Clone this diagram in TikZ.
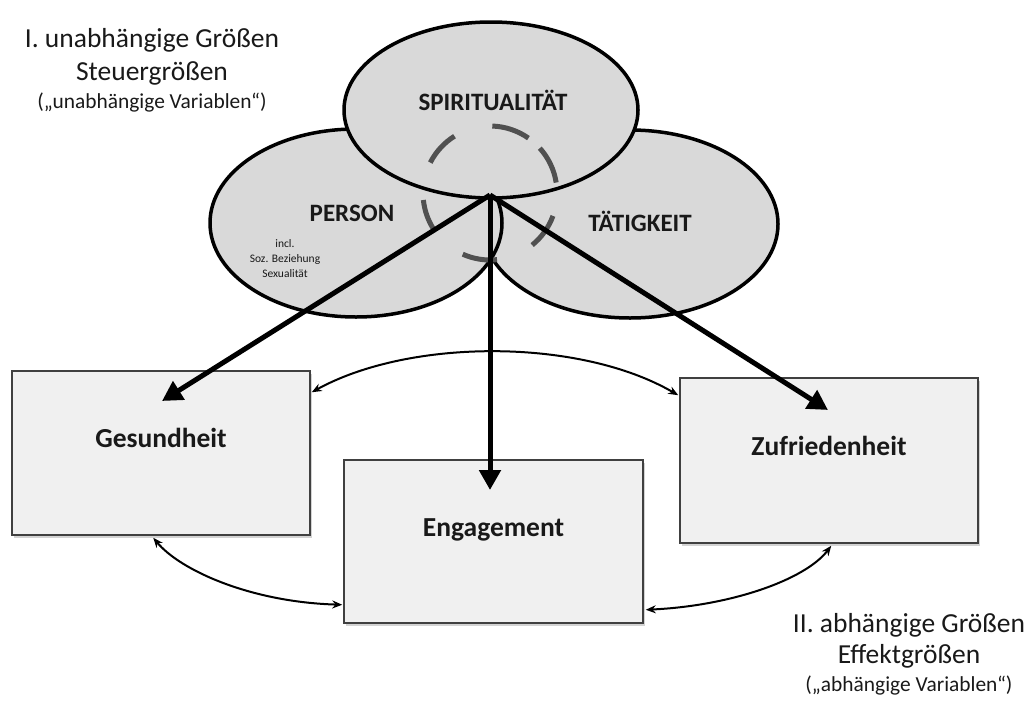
\documentclass[tikz,border=0pt]{standalone}
\usepackage{fontspec}
\setmainfont{Carlito}
\usetikzlibrary{shapes.geometric,arrows.meta,calc,shadows}
\definecolor{blobfill}{HTML}{D9D9D9}
\definecolor{boxfill}{HTML}{F0F0F0}
\definecolor{boxline}{HTML}{404040}
\definecolor{dashcol}{HTML}{505050}
\begin{document}
\begin{tikzpicture}[x=1pt,y=-1pt,
  blob/.style={ellipse, draw=black, line width=3.5pt, fill=blobfill, inner sep=0pt},
  blobtext/.style={font=\fontsize{25}{28}\selectfont\bfseries, text=black!90},
  box/.style={rectangle, draw=boxline, line width=1.5pt, fill=boxfill, inner sep=0pt,
    drop shadow={shadow xshift=1.5pt, shadow yshift=-2.5pt, opacity=0.35}},
  boxtext/.style={font=\fontsize{27.5}{30}\selectfont\bfseries, text=black!90},
  bigarrow/.style={line width=5pt, -{Triangle[length=20pt,width=21pt]}},
  linkarrow/.style={line width=2pt, {Stealth[length=10pt,width=8pt]}-{Stealth[length=10pt,width=8pt]}},
  dasharc/.style={draw=dashcol, line width=5pt},
  bigtitle/.style={font=\fontsize{27.5}{30}\selectfont, text=black!90, anchor=base},
  subtitle/.style={font=\fontsize{21.4}{24}\selectfont, text=black!90, anchor=base}
]
\useasboundingbox (0,0) rectangle (1027,704);

% ellipses
\node[blob, minimum width=296pt, minimum height=188pt] (taet) at (630,224) {};
\node[blob, minimum width=292pt, minimum height=188pt] (pers) at (356,223) {};
\node[blob, minimum width=294pt, minimum height=176pt] (spir) at (491,110) {};

\node[blobtext] (spirt) at (493,100) {SPIRITUALITÄT};
\node[blobtext] (perst) at (352,213) {PERSON};
\node[blobtext] (taett) at (640,221) {TÄTIGKEIT};
\node[font=\fontsize{11.5}{15}\selectfont, align=center, text=black!90] (persx) at (285,259)
  {incl.\\Soz. Beziehung\\Sexualität};

% dashed circle
\coordinate (hub) at (490,195);
\coordinate (dc) at (490,193);
\foreach \a/\b in {9/42,55/88,122/153,186/212,246/276,309/340}{
  \draw[dasharc] ($(dc)+(-\a:67)$) arc[start angle=-\a, end angle=-\b, radius=67];
}

% boxes
\node[box, minimum width=298pt, minimum height=164pt] (gesund) at (161,453) {};
\node[box, minimum width=299pt, minimum height=163pt] (engag) at (493.5,541.5) {};
\node[box, minimum width=298pt, minimum height=165pt] (zufr) at (829,460.5) {};

\node[boxtext] (gesundt) at ($(gesund.center)+(0,-15)$) {Gesundheit};
\node[boxtext] (engagt) at ($(engag.center)+(0,-12)$) {Engagement};
\node[boxtext] (zufrt) at ($(zufr.center)+(0,-15)$) {Zufriedenheit};

% thick arrows
\coordinate (tipG) at (162,401);
\coordinate (tipE) at (490,490);
\coordinate (tipZ) at (828,410);
\draw[bigarrow] (hub) -- (tipG);
\draw[bigarrow] (hub) -- (tipE);
\draw[bigarrow] (hub) -- (tipZ);

% curved links
\coordinate (gE) at ($(gesund.north east)+(1,22)$);
\coordinate (zW) at ($(zufr.north west)+(-1,18)$);
\coordinate (gS) at ($(gesund.south west)+(142,2)$);
\coordinate (eW) at ($(engag.south west)+(-1,-19)$);
\coordinate (eE) at ($(engag.south east)+(2,-14)$);
\coordinate (zS) at ($(zufr.south west)+(152,2)$);
\draw[linkarrow] (gE) .. controls (410,338) and (580,338) .. (zW);
\draw[linkarrow] (gS) .. controls (180,570) and (250,602) .. (eW);
\draw[linkarrow] (eE) .. controls (730,606) and (805,580) .. (zS);

% titles
\node[bigtitle] (t1) at (152,47) {I. unabhängige Größen};
\node[bigtitle] (t2) at (152,80) {Steuergrößen};
\node[subtitle] (t3) at (152,108) {(„unabhängige Variablen“)};

\node[bigtitle] (b1) at (909,632) {II. abhängige Größen};
\node[bigtitle] (b2) at (909,663) {Effektgrößen};
\node[subtitle] (b3) at (909,691) {(„abhängige Variablen“)};
\end{tikzpicture}
\end{document}
